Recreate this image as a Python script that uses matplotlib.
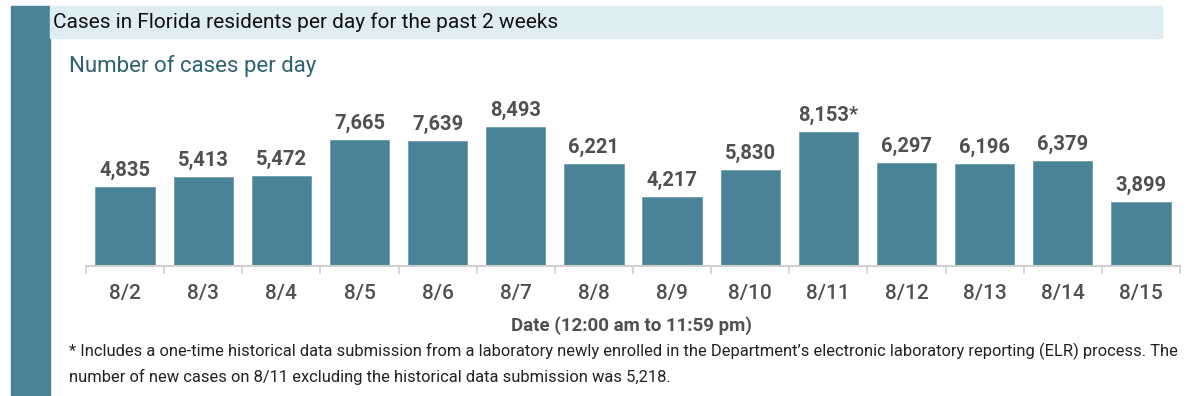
import matplotlib.pyplot as plt
from matplotlib.patches import Rectangle

# data
dates = ["8/2", "8/3", "8/4", "8/5", "8/6", "8/7", "8/8",
         "8/9", "8/10", "8/11", "8/12", "8/13", "8/14", "8/15"]
cases = [4835, 5413, 5472, 7665, 7639, 8493, 6221,
         4217, 5830, 8153, 6297, 6196, 6379, 3899]
flagged = ["8/11"]

teal = "#4a8397"
label_gray = "#505050"

plt.rcParams['font.family'] = ['Roboto', 'DejaVu Sans']

W, H = 1200, 396
fig = plt.figure(figsize=(W / 100, H / 100), dpi=100)

# left accent strip and title band
fig.patches.append(Rectangle((11 / W, 0), 39 / W, 390 / H, transform=fig.transFigure,
                             color=teal, zorder=0))
fig.patches.append(Rectangle((50 / W, 1 - 38 / H), 1112 / W, 32 / H, transform=fig.transFigure,
                             color="#deedf2", zorder=0))

fig.text(53 / W, 1 - 22 / H, "Cases in Florida residents per day for the past 2 weeks",
         fontsize=15, color="#111111", va="center", ha="left")
fig.text(69 / W, 1 - 66 / H, "Number of cases per day",
         fontsize=16, color="#2e6272", va="center", ha="left")

# plot area: baseline at y=265.7px, 9000 cases -> 147px
ax = fig.add_axes([86 / W, (H - 265.7) / H, 1094 / W, 147.2 / H])
x = list(range(len(dates)))
ax.bar(x, cases, width=0.76, color=teal, edgecolor="#6d9fb1", linewidth=0.6)
ax.set_xlim(-0.5, len(dates) - 0.5)
ax.set_ylim(0, 9000)

for xi, d, v in zip(x, dates, cases):
    txt = f"{v:,}" + ("*" if d in flagged else "")
    ax.annotate(txt, (xi, v), xytext=(0, 5), textcoords="offset points",
                ha="center", va="bottom", fontsize=14.5, fontweight="bold",
                color=label_gray, annotation_clip=False)

ax.set_xticks(x)
ax.set_xticklabels(dates, fontsize=15, color=label_gray, fontweight="medium")
ax.set_xticks([i + 0.5 for i in range(-1, len(dates))], minor=True)
ax.tick_params(axis="x", which="major", length=0, pad=13)
ax.tick_params(axis="x", which="minor", length=6, color="#d0d0d0", width=1.2)
ax.set_yticks([])
for side in ["top", "right", "left"]:
    ax.spines[side].set_visible(False)
ax.spines["bottom"].set_color("#d0d0d0")
ax.spines["bottom"].set_linewidth(1.5)

fig.text(631 / W, 1 - 326 / H, "Date (12:00 am to 11:59 pm)",
         fontsize=13.5, fontweight="bold", color=label_gray, ha="center", va="center")

note1 = ("* Includes a one-time historical data submission from a laboratory newly enrolled in the "
         "Department\u2019s electronic laboratory reporting (ELR) process. The")
note2 = "number of new cases on 8/11 excluding the historical data submission was 5,218."
fig.text(69 / W, 1 - 351 / H, note1, fontsize=11.9, color="#222222", ha="left", va="center")
fig.text(69 / W, 1 - 377 / H, note2, fontsize=11.9, color="#222222", ha="left", va="center")

fig.savefig("out.png", dpi=100)
